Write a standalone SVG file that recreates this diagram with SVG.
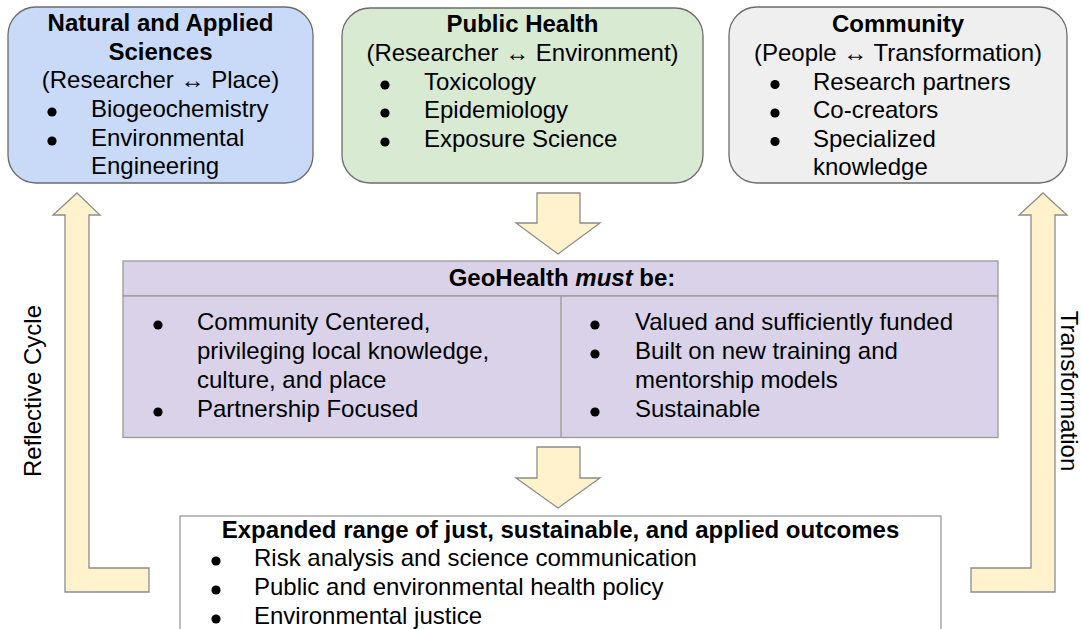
<svg xmlns="http://www.w3.org/2000/svg" width="1081" height="629" viewBox="0 0 1081 629">
  <style>
    text { font-family: "Liberation Sans", Arial, sans-serif; font-size: 24px; fill: #000; }
    .b { font-weight: bold; }
    .c { text-anchor: middle; }
    .card { stroke: #6b6b6b; stroke-width: 1.3; }
    .panel { stroke: #9a9a9a; stroke-width: 1.3; }
    .flow { fill: #fff2cc; stroke: #8c8c8c; stroke-width: 1.3; stroke-linejoin: miter; }
    .dot { fill: #000; }
  </style>
  <defs>
    <circle id="dot" r="4.6" class="dot"/>
  </defs>
  <rect width="1081" height="629" fill="#ffffff"/>

  <!-- Flow arrows -->
  <g id="connectors">
    <polygon class="flow" points="537,193 580,193 580,223 600,223 558,254 516,223 537,223"/>
    <polygon class="flow" points="537,447 580,447 580,478 600,478 558,508 516,478 537,478"/>
    <polygon class="flow" points="77,193 100,215 89,215 89,568 149,568 149,592 65,592 65,215 53,215"/>
    <polygon class="flow" points="1043,193 1067,215 1055,215 1055,592 971,592 971,568 1031,568 1031,215 1019,215"/>
    <text class="c" transform="translate(41,391) rotate(-90)">Reflective Cycle</text>
    <text class="c" transform="translate(1061,391) rotate(90)">Transformation</text>
  </g>

  <!-- Natural and Applied Sciences -->
  <g id="natural-sciences">
    <rect class="card" x="8" y="7" width="305" height="176" rx="28" fill="#c9daf8"/>
    <text class="b c" x="160.5" y="31">Natural and Applied</text>
    <text class="b c" x="160.5" y="59.5">Sciences</text>
    <text class="c" x="160.5" y="88">(Researcher ↔ Place)</text>
    <use href="#dot" x="52" y="112"/>
    <text x="91" y="117">Biogeochemistry</text>
    <use href="#dot" x="52" y="141"/>
    <text x="91" y="146">Environmental</text>
    <text x="91" y="174">Engineering</text>
  </g>

  <!-- Public Health -->
  <g id="public-health">
    <rect class="card" x="342" y="8" width="361" height="175" rx="28" fill="#d9ead3"/>
    <text class="b c" x="522.5" y="32">Public Health</text>
    <text class="c" x="522.5" y="61">(Researcher ↔ Environment)</text>
    <use href="#dot" x="385" y="85"/>
    <text x="424" y="90">Toxicology</text>
    <use href="#dot" x="385" y="113"/>
    <text x="424" y="118">Epidemiology</text>
    <use href="#dot" x="385" y="142"/>
    <text x="424" y="147">Exposure Science</text>
  </g>

  <!-- Community -->
  <g id="community">
    <rect class="card" x="729" y="7" width="338" height="176" rx="28" fill="#efefef"/>
    <text class="b c" x="898" y="32">Community</text>
    <text class="c" x="898" y="61">(People ↔ Transformation)</text>
    <use href="#dot" x="775" y="84.5"/>
    <text x="813" y="89.5">Research partners</text>
    <use href="#dot" x="775" y="113"/>
    <text x="813" y="118">Co-creators</text>
    <use href="#dot" x="775" y="141.5"/>
    <text x="813" y="146.5">Specialized</text>
    <text x="813" y="175">knowledge</text>
  </g>

  <!-- GeoHealth requirements -->
  <g id="geohealth">
    <rect class="panel" x="123" y="261" width="875" height="35" fill="#d9d2e9"/>
    <rect class="panel" x="123" y="296" width="875" height="141.5" fill="#d9d2e9"/>
    <line class="panel" x1="561" y1="296" x2="561" y2="437.5"/>
    <text class="b c" x="562" y="286">GeoHealth <tspan font-style="italic">must</tspan> be:</text>
    <use href="#dot" x="158" y="325"/>
    <text x="197" y="330">Community Centered,</text>
    <text x="197" y="359">privileging local knowledge,</text>
    <text x="197" y="388">culture, and place</text>
    <use href="#dot" x="158" y="412"/>
    <text x="197" y="417">Partnership Focused</text>
    <use href="#dot" x="595" y="325"/>
    <text x="635" y="330">Valued and sufficiently funded</text>
    <use href="#dot" x="595" y="354"/>
    <text x="635" y="359">Built on new training and</text>
    <text x="635" y="388">mentorship models</text>
    <use href="#dot" x="595" y="412"/>
    <text x="635" y="417">Sustainable</text>
  </g>

  <!-- Outcomes -->
  <g id="outcomes">
    <rect class="panel" x="180" y="516" width="761" height="130" fill="#ffffff"/>
    <text class="b c" x="560.5" y="538">Expanded range of just, sustainable, and applied outcomes</text>
    <use href="#dot" x="216" y="561"/>
    <text x="254" y="566">Risk analysis and science communication</text>
    <use href="#dot" x="216" y="590"/>
    <text x="254" y="595">Public and environmental health policy</text>
    <use href="#dot" x="216" y="619"/>
    <text x="254" y="624">Environmental justice</text>
  </g>
</svg>
